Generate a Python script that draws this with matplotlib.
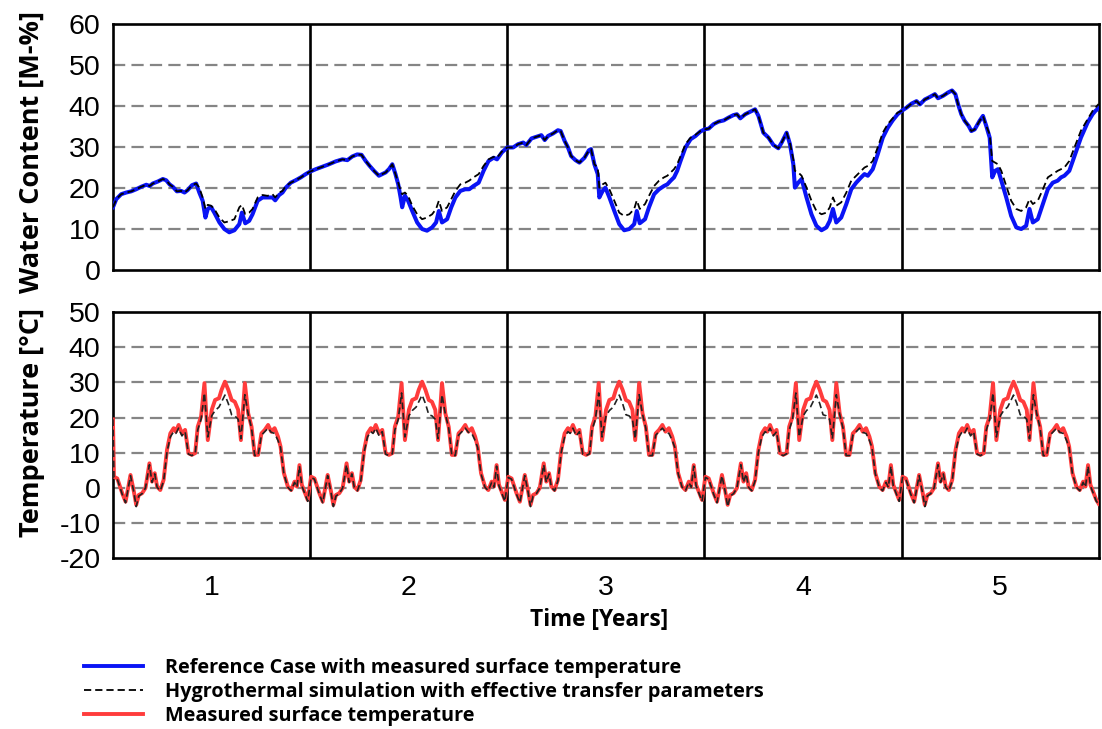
import matplotlib
matplotlib.use("Agg")
import matplotlib.pyplot as plt
from matplotlib.lines import Line2D
import numpy as np

# water content [M-%]
wc_years = [0.500, 0.517, 0.542, 0.567, 0.593, 0.618, 0.643, 0.669, 0.686, 0.702,
            0.728, 0.753, 0.770, 0.787, 0.804, 0.824, 0.846, 0.863, 0.879, 0.901,
            0.922, 0.938, 0.955, 0.969, 0.981, 0.997, 1.014, 1.040, 1.065, 1.090,
            1.116, 1.141, 1.154, 1.171, 1.191, 1.208, 1.234, 1.259, 1.284, 1.309,
            1.323, 1.343, 1.360, 1.377, 1.402, 1.427, 1.453, 1.478, 1.500, 1.529,
            1.562, 1.596, 1.630, 1.664, 1.689, 1.714, 1.739, 1.761, 1.782, 1.802,
            1.824, 1.849, 1.866, 1.883, 1.900, 1.917, 1.933, 1.947, 1.959, 1.967,
            1.981, 1.997, 2.018, 2.043, 2.068, 2.093, 2.119, 2.139, 2.153, 2.169,
            2.195, 2.216, 2.237, 2.262, 2.287, 2.307, 2.329, 2.355, 2.380, 2.405,
            2.431, 2.448, 2.473, 2.500, 2.530, 2.555, 2.581, 2.597, 2.623, 2.648,
            2.673, 2.690, 2.707, 2.732, 2.757, 2.771, 2.791, 2.808, 2.824, 2.846,
            2.866, 2.892, 2.914, 2.925, 2.942, 2.959, 2.967, 2.984, 2.998, 3.018,
            3.043, 3.068, 3.093, 3.119, 3.144, 3.157, 3.172, 3.199, 3.219, 3.245,
            3.270, 3.295, 3.312, 3.329, 3.346, 3.362, 3.379, 3.404, 3.430, 3.455,
            3.480, 3.500, 3.522, 3.547, 3.572, 3.598, 3.623, 3.648, 3.665, 3.682,
            3.707, 3.732, 3.757, 3.774, 3.799, 3.825, 3.850, 3.875, 3.892, 3.917,
            3.934, 3.951, 3.959, 3.976, 3.993, 4.018, 4.043, 4.068, 4.094, 4.119,
            4.136, 4.152, 4.169, 4.194, 4.220, 4.245, 4.270, 4.295, 4.312, 4.329,
            4.354, 4.379, 4.405, 4.430, 4.455, 4.480, 4.500, 4.525, 4.551, 4.576,
            4.593, 4.618, 4.643, 4.669, 4.685, 4.711, 4.736, 4.756, 4.773, 4.787,
            4.803, 4.820, 4.841, 4.854, 4.871, 4.896, 4.913, 4.930, 4.947, 4.960,
            4.975, 4.989, 5.006, 5.031, 5.056, 5.082, 5.107, 5.132, 5.149, 5.166,
            5.191, 5.217, 5.242, 5.267, 5.292, 5.309, 5.326, 5.351, 5.377, 5.410,
            5.444, 5.469, 5.483, 5.500]

wc_reference = [15.3, 17.3, 18.5, 18.9, 19.2, 19.7, 20.3, 20.8, 20.5, 21.1,
                21.6, 22.2, 21.9, 20.9, 20.3, 19.2, 19.3, 18.9, 19.5, 20.7,
                21.1, 18.9, 16.9, 12.8, 14.9, 15.4, 14.0, 11.6, 10.0, 9.2,
                9.7, 11.2, 14.0, 11.4, 12.0, 13.6, 16.9, 17.7, 17.7, 17.7,
                17.0, 18.3, 18.9, 20.1, 21.3, 21.9, 22.6, 23.4, 24.0, 24.6,
                25.2, 25.8, 26.5, 27.0, 26.8, 27.7, 28.2, 28.1, 26.6, 25.4,
                24.2, 23.0, 23.4, 23.8, 24.6, 25.8, 23.4, 20.9, 17.7, 15.3,
                18.1, 16.9, 14.4, 11.6, 10.0, 9.6, 10.4, 11.6, 14.4, 11.6,
                12.4, 15.3, 17.7, 19.3, 19.7, 19.7, 20.5, 21.3, 24.2, 26.6,
                27.4, 27.0, 28.7, 29.9, 29.9, 30.7, 31.1, 30.5, 32.1, 32.5,
                32.9, 31.7, 32.7, 33.3, 34.1, 33.9, 31.5, 29.9, 27.8, 26.8,
                26.2, 27.4, 29.2, 29.5, 25.8, 23.4, 17.7, 19.3, 20.1, 17.7,
                14.4, 11.2, 9.7, 10.0, 11.2, 14.4, 11.4, 12.4, 15.3, 18.5,
                19.7, 20.5, 20.9, 21.8, 22.6, 24.2, 26.6, 29.9, 31.9, 32.7,
                33.8, 34.3, 34.5, 35.6, 36.2, 36.5, 37.2, 37.8, 38.0, 37.0,
                38.0, 38.6, 39.2, 37.6, 33.5, 32.3, 30.5, 29.7, 31.1, 33.5,
                30.7, 25.8, 20.1, 21.3, 22.2, 17.7, 13.6, 10.8, 9.7, 10.4,
                12.0, 14.9, 11.6, 12.8, 16.1, 19.7, 21.3, 22.6, 23.4, 23.0,
                24.6, 28.2, 32.3, 34.7, 36.5, 38.0, 38.8, 39.6, 40.6, 41.2,
                40.4, 41.6, 42.2, 42.9, 41.9, 42.5, 43.3, 43.8, 42.9, 40.4,
                38.0, 36.4, 35.1, 33.9, 34.3, 36.4, 37.6, 35.1, 32.3, 22.6,
                24.2, 24.6, 21.8, 17.7, 13.2, 10.4, 10.0, 10.8, 14.9, 11.6,
                12.4, 16.1, 19.7, 21.3, 21.8, 22.6, 23.0, 24.2, 27.8, 32.3,
                36.0, 38.0, 38.8, 39.5]

wc_simulation = [15.3, 17.3, 18.5, 18.9, 19.2, 19.7, 20.3, 20.8, 20.5, 21.1,
                 21.6, 22.2, 21.9, 20.9, 20.3, 19.2, 19.3, 18.9, 19.5, 20.7,
                 21.1, 20.1, 17.7, 14.9, 15.9, 15.7, 14.9, 12.8, 11.6, 11.9,
                 12.4, 15.3, 15.9, 13.6, 14.0, 14.9, 17.7, 18.3, 18.1, 18.5,
                 17.7, 18.9, 19.3, 20.5, 21.3, 21.9, 22.6, 23.4, 24.0, 24.6,
                 25.2, 25.8, 26.5, 27.0, 26.8, 27.7, 28.2, 28.1, 26.6, 25.4,
                 24.2, 23.0, 23.4, 23.8, 24.6, 25.8, 23.4, 21.3, 19.3, 18.5,
                 18.9, 18.1, 15.7, 13.6, 12.4, 12.8, 13.6, 14.9, 16.9, 14.4,
                 15.3, 17.3, 19.3, 20.9, 21.3, 21.8, 22.6, 23.4, 25.4, 27.0,
                 27.6, 27.4, 28.9, 29.9, 29.9, 30.7, 31.1, 30.5, 32.1, 32.5,
                 32.9, 31.7, 32.7, 33.3, 34.1, 33.9, 31.5, 29.9, 27.8, 26.8,
                 26.2, 27.4, 29.2, 29.5, 25.8, 25.0, 20.1, 20.9, 21.3, 19.7,
                 16.9, 14.0, 13.2, 13.6, 14.9, 17.0, 14.9, 16.1, 18.1, 20.5,
                 21.8, 22.6, 23.0, 23.8, 24.6, 25.8, 27.8, 30.7, 32.3, 33.0,
                 33.9, 34.3, 34.5, 35.6, 36.2, 36.5, 37.2, 37.8, 38.0, 37.0,
                 38.0, 38.6, 39.2, 37.6, 33.5, 32.3, 30.5, 29.7, 31.1, 33.5,
                 31.0, 27.0, 24.2, 23.8, 23.0, 20.1, 16.9, 14.4, 13.6, 14.0,
                 15.3, 17.7, 15.7, 16.5, 18.9, 21.8, 23.0, 24.2, 25.0, 25.4,
                 26.6, 29.9, 33.5, 35.6, 37.0, 38.4, 38.8, 39.6, 40.6, 41.2,
                 40.4, 41.6, 42.2, 42.9, 41.9, 42.5, 43.3, 43.8, 42.9, 40.4,
                 38.0, 36.4, 35.1, 33.9, 34.3, 36.4, 37.6, 35.1, 33.1, 26.6,
                 26.2, 25.8, 24.2, 20.5, 16.9, 14.9, 14.4, 15.3, 17.3, 16.1,
                 16.9, 19.7, 22.6, 23.4, 24.2, 24.6, 25.0, 26.6, 29.9, 34.0,
                 36.8, 38.8, 39.6, 40.5]

# surface temperature [°C] over one climate year (repeated every year)
year_phase = [0.000, 0.005, 0.022, 0.047, 0.064, 0.089, 0.106, 0.118, 0.131, 0.148,
              0.165, 0.185, 0.198, 0.212, 0.224, 0.240, 0.257, 0.274, 0.291, 0.308,
              0.319, 0.333, 0.350, 0.366, 0.383, 0.400, 0.417, 0.430, 0.447, 0.464,
              0.481, 0.501, 0.518, 0.538, 0.551, 0.568, 0.585, 0.602, 0.618, 0.635,
              0.649, 0.669, 0.686, 0.703, 0.719, 0.736, 0.753, 0.770, 0.787, 0.803,
              0.820, 0.837, 0.850, 0.867, 0.887, 0.904, 0.921, 0.933, 0.946, 0.958,
              0.971, 0.988]
temp_measured = [-2.0, 3.2, 2.7, -1.5, -3.9, 3.7, -1.0, -4.8, -2.0, -1.5,
                 0.0, 7.0, 1.8, 4.2, 0.4, -0.6, 2.3, 10.8, 15.5, 17.0,
                 16.0, 17.9, 15.5, 16.5, 9.9, 9.4, 9.9, 17.4, 20.3, 29.8,
                 13.6, 22.2, 25.0, 25.5, 27.9, 30.2, 27.9, 25.0, 24.5, 22.2,
                 13.6, 29.8, 21.2, 17.4, 9.4, 9.4, 15.5, 16.5, 17.9, 16.0,
                 17.0, 14.6, 11.8, 4.2, 0.4, -0.6, 1.8, 0.4, 6.5, 0.9,
                 -1.0, -3.4]
temp_simulation = [-2.0, 3.0, 2.5, -1.8, -4.2, 3.5, -1.2, -5.3, -2.3, -1.6,
                   0.0, 6.6, 1.6, 4.0, 0.2, -0.8, 2.0, 10.2, 14.5, 16.0,
                   15.5, 17.0, 14.8, 16.0, 9.6, 9.2, 9.7, 16.5, 19.5, 27.0,
                   14.5, 20.5, 22.0, 23.0, 24.5, 26.4, 24.0, 20.8, 20.5, 19.5,
                   14.0, 26.5, 21.0, 17.0, 9.2, 9.2, 15.0, 16.0, 17.0, 15.8,
                   15.5, 13.5, 11.5, 4.0, 0.2, -0.8, 1.6, 0.2, 6.2, 0.6,
                   -1.3, -3.8]
first_value = 19.5  # short spike at the very start of the record
last_value = -4.5

years = [1, 2, 3, 4, 5]
wc_ticks = [0, 10, 20, 30, 40, 50, 60]
temp_ticks = [-20, -10, 0, 10, 20, 30, 40, 50]

legend_labels = ["Reference Case with measured surface temperature",
                 "Hygrothermal simulation with effective transfer parameters",
                 "Measured surface temperature"]

BLUE = "#0a14f5"
RED = "#ff3c3c"
GRID = "#858585"


def style_axis(ax, ticks):
    ax.set_xlim(0.5, 5.5)
    ax.set_ylim(ticks[0], ticks[-1])
    ax.set_yticks(ticks)
    ax.set_yticklabels([str(t) for t in ticks], fontfamily="Liberation Sans", fontsize=20.5)
    ax.tick_params(axis="both", length=0, pad=9)
    for t in ticks[1:-1]:
        ax.axhline(t, color=GRID, lw=1.6, dashes=(5.5, 2.8), zorder=1)
    for b in years[:-1]:
        ax.axvline(b + 0.5, color="black", lw=1.9, zorder=1)
    for sp in ax.spines.values():
        sp.set_linewidth(1.9)


def main():
    fig = plt.figure(figsize=(11.02, 7.29), dpi=100)
    ax1 = fig.add_axes([0.1025, 0.6296, 0.8945, 0.3374])
    ax2 = fig.add_axes([0.1025, 0.2341, 0.8945, 0.3379])

    style_axis(ax1, wc_ticks)
    ax1.set_xticks([])
    ax1.plot(wc_years, wc_reference, color=BLUE, lw=2.9, zorder=3)
    ax1.plot(wc_years, wc_simulation, color="black", lw=1.3, dashes=(4, 2.2), zorder=4)

    t_all = np.concatenate([[0.5]] + [0.5 + k + np.array(year_phase[1:]) for k in range(5)] + [[5.5]])
    tm_all = np.concatenate([[first_value]] + [temp_measured[1:]] * 5 + [[last_value]])
    ts_all = np.concatenate([[first_value]] + [temp_simulation[1:]] * 5 + [[last_value]])

    style_axis(ax2, temp_ticks)
    ax2.set_xticks(years)
    ax2.set_xticklabels([str(y) for y in years], fontfamily="Liberation Sans", fontsize=20.5)
    ax2.tick_params(axis="x", pad=12)
    ax2.plot(t_all, tm_all, color=RED, lw=2.8, zorder=3)
    ax2.plot(t_all, ts_all, color="#222222", lw=1.2, dashes=(4, 2.2), zorder=4)

    bold = dict(fontfamily="Open Sans", fontweight="bold")
    fig.text(0.029, 0.792, "Water Content [M-%]", rotation=90, ha="center", va="center",
             fontsize=19.5, **bold)
    fig.text(0.029, 0.42, "Temperature [°C]", rotation=90, ha="center", va="center",
             fontsize=19.5, **bold)
    fig.text(0.544, 0.149, "Time [Years]", ha="center", va="center", fontsize=16.3, **bold)

    handles = [Line2D([], [], color=BLUE, lw=2.8),
               Line2D([], [], color="black", lw=1.3, dashes=(4, 2.2)),
               Line2D([], [], color=RED, lw=2.8)]
    fig.legend(handles, legend_labels, loc="upper left", bbox_to_anchor=(0.076, 0.098),
               frameon=False, borderpad=0, borderaxespad=0, handlelength=3.0,
               handletextpad=1.1, labelspacing=0.22,
               prop={"family": "Open Sans", "weight": "bold", "size": 14.3})

    fig.savefig("out.png", dpi=100)
    plt.close(fig)


if __name__ == "__main__":
    main()
